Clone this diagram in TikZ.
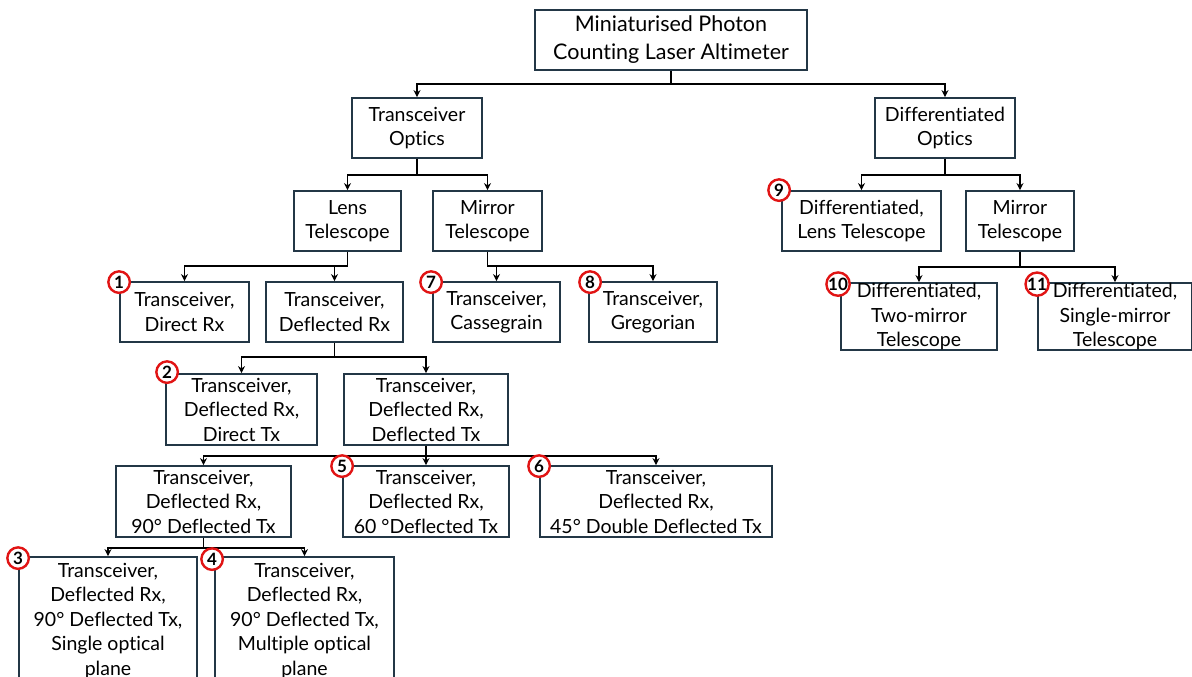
\documentclass[tikz,border=0pt]{standalone}
\usepackage{fontspec}
\setmainfont{Lato}[Ligatures={NoCommon}]
\usetikzlibrary{arrows.meta}
\definecolor{boxline}{RGB}{35,55,70}
\definecolor{badgered}{RGB}{225,20,20}
\tikzset{
  box/.style={draw=boxline, line width=1.8pt, fill=white, align=center, inner sep=0pt,
    font=\fontsize{19.5}{24.5}\selectfont},
  arr/.style={draw=black, line width=1.5pt, -{Stealth[length=7pt,width=7pt]}},
  badge/.style={circle, draw=badgered, line width=2.4pt, fill=white, minimum size=21.5pt,
    inner sep=0pt, font=\fontsize{17}{17}\selectfont\bfseries}
}
\begin{document}
\begin{tikzpicture}[x=1pt,y=-1pt]
\useasboundingbox (0,0) rectangle (1192,677);
% boxes
\node[box, minimum width=272, minimum height=60, font=\fontsize{21.5}{28}\selectfont] (root) at (671,40) {Miniaturised Photon\\Counting Laser Altimeter};
\node[box, minimum width=130, minimum height=60] (tro) at (417,128) {Transceiver\\Optics};
\node[box, minimum width=140, minimum height=60] (dfo) at (945,128) {Differentiated\\Optics};
\node[box, minimum width=107, minimum height=60] (lens) at (347.5,221) {Lens\\Telescope};
\node[box, minimum width=109, minimum height=60] (mir) at (487.5,221) {Mirror\\Telescope};
\node[box, minimum width=159, minimum height=60] (dlens) at (861.5,221) {Differentiated,\\Lens Telescope};
\node[box, minimum width=108, minimum height=60] (dmir) at (1020,221) {Mirror\\Telescope};
\node[box, minimum width=129, minimum height=60] (drx) at (184.5,312) {Transceiver,\\Direct Rx};
\node[box, minimum width=137, minimum height=60] (defrx) at (334.5,312) {Transceiver,\\Deflected Rx};
\node[box, minimum width=127, minimum height=60] (cas) at (496.5,312) {Transceiver,\\Cassegrain};
\node[box, minimum width=128, minimum height=60] (gre) at (653,312) {Transceiver,\\Gregorian};
\node[box, minimum width=156, minimum height=67] (two) at (919,316.5) {Differentiated,\\Two-mirror\\Telescope};
\node[box, minimum width=154, minimum height=67] (single) at (1115,316.5) {Differentiated,\\Single-mirror\\Telescope};
\node[box, minimum width=151, minimum height=71] (dirtx) at (241.5,409.5) {Transceiver,\\Deflected Rx,\\Direct Tx};
\node[box, minimum width=164, minimum height=71] (deftx) at (426,409.5) {Transceiver,\\Deflected Rx,\\Deflected Tx};
\node[box, minimum width=175, minimum height=71] (n90) at (203.5,501.5) {Transceiver,\\Deflected Rx,\\90° Deflected Tx};
\node[box, minimum width=166, minimum height=71] (n60) at (426,501.5) {Transceiver,\\Deflected Rx,\\60 °Deflected Tx};
\node[box, minimum width=232, minimum height=71] (n45) at (656,501.5) {Transceiver,\\Deflected Rx,\\45° Double Deflected Tx};
\node[box, minimum width=178, minimum height=128] (n3) at (108,621) {Transceiver,\\Deflected Rx,\\90° Deflected Tx,\\Single optical\\plane};
\node[box, minimum width=179, minimum height=128] (n4) at (304.5,621) {Transceiver,\\Deflected Rx,\\90° Deflected Tx,\\Multiple optical\\plane};
% bus levels
\coordinate (y0) at (0,84);
\coordinate (y1) at (0,175);
\coordinate (y2) at (0,266);
\coordinate (y3) at (0,267);
\coordinate (y4) at (0,357);
\coordinate (y5) at (0,456);
\coordinate (y6) at (0,548);
% connectors
\draw[arr] (root.south) |- (tro.north |- y0) -- (tro.north);
\draw[arr] (root.south) |- (dfo.north |- y0) -- (dfo.north);
\draw[arr] (tro.south) |- (lens.north |- y1) -- (lens.north);
\draw[arr] (tro.south) |- (mir.north |- y1) -- (mir.north);
\draw[arr] (dfo.south) |- (dlens.north |- y1) -- (dlens.north);
\draw[arr] (dfo.south) |- (dmir.north |- y1) -- (dmir.north);
\draw[arr] (lens.south) |- (drx.north |- y2) -- (drx.north);
\draw[arr] (lens.south) |- (defrx.north |- y2) -- (defrx.north);
\draw[arr] (mir.south) |- (cas.north |- y2) -- (cas.north);
\draw[arr] (mir.south) |- (gre.north |- y2) -- (gre.north);
\draw[arr] (dmir.south) |- (two.north |- y3) -- (two.north);
\draw[arr] (dmir.south) |- (single.north |- y3) -- (single.north);
\draw[arr] (defrx.south) |- (dirtx.north |- y4) -- (dirtx.north);
\draw[arr] (defrx.south) |- (deftx.north |- y4) -- (deftx.north);
\draw[arr] (deftx.south) |- (n90.north |- y5) -- (n90.north);
\draw[arr] (deftx.south) |- (n60.north |- y5) -- (n60.north);
\draw[arr] (deftx.south) |- (n45.north |- y5) -- (n45.north);
\draw[arr] (n90.south) |- (n3.north |- y6) -- (n3.north);
\draw[arr] (n90.south) |- (n4.north |- y6) -- (n4.north);
% badges
\node[badge] (b1) at ([yshift=-1pt]drx.north west) {1};
\node[badge] (b2) at ([xshift=2pt,yshift=1pt]dirtx.north west) {2};
\node[badge] (b3) at ([yshift=-2pt]n3.north west) {3};
\node[badge] (b4) at ([xshift=-2pt,yshift=-3pt]n4.north west) {4};
\node[badge] (b5) at ([yshift=-1pt]n60.north west) {5};
\node[badge] (b6) at ([yshift=-1pt]n45.north west) {6};
\node[badge] (b7) at ([xshift=-1pt,yshift=-1pt]cas.north west) {7};
\node[badge] (b8) at ([xshift=2pt,yshift=-1pt]gre.north west) {8};
\node[badge] (b9) at ([xshift=-2pt]dlens.north west) {9};
\node[badge] (b10) at ([xshift=-2pt,yshift=-2pt]two.north west) {10};
\node[badge] (b11) at ([yshift=-2pt]single.north west) {11};
\end{tikzpicture}
\end{document}
